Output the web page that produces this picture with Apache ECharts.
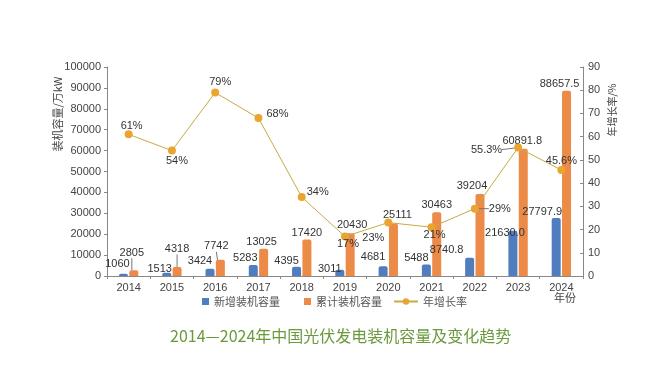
<!DOCTYPE html>
<html>
<head>
<meta charset="utf-8">
<script src="https://cdn.jsdelivr.net/npm/echarts@6/dist/echarts.min.js"></script>
<style>html,body{margin:0;padding:0;background:#fff}#c{width:660px;height:382px}</style>
</head>
<body>
<div id="c"></div>
<script>
// ---- data ----
var years = ['2014','2015','2016','2017','2018','2019','2020','2021','2022','2023','2024'];
var newCap = [1060, 1513, 3424, 5283, 4395, 3011, 4681, 5488, 8740.8, 21630.0, 27797.9];
var totalCap = [2805, 4318, 7742, 13025, 17420, 20430, 25111, 30463, 39204, 60891.8, 88657.5];
var growth = [61, 54, 79, 68, 34, 17, 23, 21, 29, 55.3, 45.6];
var leftTicks = [0, 100000, 10000];
var rightTicks = [0, 90, 10];

// ---- label styling (offsets only) ----
var newOff = [[-6,1],[-7,7],[-10,3],[-8,3.5],[-10,5],[-10,10],[-10,1],[-10,4],[-23,3],[-8,13],[-14,5]];
var totOff = [[-2,-7],[0,-7.5],[-4,-3],[-2,4],[0,4],[2,2],[4,2],[0,3],[-8,2.5],[-1,3],[-7,4]];
var totLeader = [0,1,2];
var grPos = ['top','bottom','top','right','right','bottom','bottom','bottom','right','left','top'];
var grOff = [[3,6],[5,-4],[5,4],[-1,-4],[-4,-5],[3,-7],[-15,1],[3,-7],[5,0],[-7,2],[0,5]];
var grLeader = [8,9];

var FONT = 'Liberation Sans, Noto Sans CJK SC, sans-serif';
var CJK = 'Noto Sans CJK SC, sans-serif';
var chart = echarts.init(document.getElementById('c'), null, {renderer:'canvas'});

var newFmt = newCap.map(function(v,i){ return i>=8 ? v.toFixed(1) : String(v); });
var totFmt = totalCap.map(function(v,i){ return i>=9 ? v.toFixed(1) : String(v); });

chart.setOption({
  backgroundColor:'#fff',
  animation:false,
  title:{text:'2014—2024年中国光伏发电装机容量及变化趋势', left:165, top:323,
    textStyle:{fontFamily:CJK, fontSize:16, fontWeight:'normal', color:'#6b9a3d'}},
  legend:[
    {data:['新增装机容量','累计装机容量'], left:202, top:296, padding:0, itemWidth:7, itemHeight:7, itemGap:24, icon:'rect',
     textStyle:{fontFamily:CJK, fontSize:11, color:'#555'}},
    {data:['年增长率'], left:393, top:296, padding:0, itemWidth:24, itemHeight:8,
     textStyle:{fontFamily:CJK, fontSize:11, color:'#555'}}
  ],
  grid:{left:107, right:77, top:67, bottom:106},
  xAxis:{type:'category', data:years,
    axisLine:{lineStyle:{color:'#888'}},
    axisTick:{show:true, length:3, lineStyle:{color:'#888'}},
    axisLabel:{fontFamily:FONT, fontSize:11, color:'#444', margin:6}},
  yAxis:[
    {type:'value', min:leftTicks[0], max:leftTicks[1], interval:leftTicks[2],
     axisLine:{show:true, lineStyle:{color:'#888'}}, axisTick:{show:true, length:3, lineStyle:{color:'#888'}},
     splitLine:{show:false}, axisLabel:{fontFamily:FONT, fontSize:11, color:'#444', margin:6,
       formatter:function(v){return String(v);}}},
    {type:'value', min:rightTicks[0], max:rightTicks[1], interval:rightTicks[2],
     axisLine:{show:true, lineStyle:{color:'#888'}}, axisTick:{show:true, inside:true, length:3, lineStyle:{color:'#888'}},
     splitLine:{show:false}, axisLabel:{fontFamily:FONT, fontSize:11, color:'#444', margin:5,
       formatter:function(v){return String(v);}}}
  ],
  graphic:[
    {type:'text', x:58, y:114, rotation:Math.PI/2, style:{text:'装机容量/万kW', fontFamily:CJK, fontSize:11, fill:'#444', textAlign:'center', textVerticalAlign:'middle'}},
    {type:'text', x:612, y:110, rotation:Math.PI/2, style:{text:'年增长率/%', fontFamily:CJK, fontSize:10, fill:'#444', textAlign:'center', textVerticalAlign:'middle'}},
    {type:'text', x:565, y:298, style:{text:'年份', fontFamily:CJK, fontSize:11, fill:'#444', textAlign:'center', textVerticalAlign:'middle'}}
  ],
  series:[
    {name:'新增装机容量', type:'bar', yAxisIndex:0, barWidth:9, barGap:'15%',
     itemStyle:{color:'#4f7dbd', borderRadius:[2,2,0,0]},
     data:newCap,
     label:{show:true, position:'top', distance:5, fontFamily:FONT, fontSize:11, color:'#333',
       formatter:function(p){return newFmt[p.dataIndex];}},
     labelLayout:function(p){var o=newOff[p.dataIndex]; return {dx:o[0], dy:o[1]};}},
    {name:'累计装机容量', type:'bar', yAxisIndex:0, barWidth:9,
     itemStyle:{color:'#ec8a48', borderRadius:[2,2,0,0]},
     data:totalCap.map(function(v,i){return {value:v, labelLine:{show: totLeader.indexOf(i)>=0, lineStyle:{color:'#777', width:1}}};}),
     label:{show:true, position:'top', distance:5, fontFamily:FONT, fontSize:11, color:'#333',
       formatter:function(p){return totFmt[p.dataIndex];}},
     labelLine:{show:false},
     labelLayout:function(p){var o=totOff[p.dataIndex]; return {dx:o[0], dy:o[1]};}},
    {name:'年增长率', type:'line', yAxisIndex:1, symbol:'circle', symbolSize:8,
     lineStyle:{color:'#c8aa45', width:1}, itemStyle:{color:'#eaa530'},
     z:5,
     data:growth.map(function(v,i){return {value:v, label:{position:grPos[i]}, labelLine:{show: grLeader.indexOf(i)>=0, lineStyle:{color:'#777', width:1}}};}),
     label:{show:true, fontFamily:FONT, fontSize:11, color:'#333', distance:5, formatter:'{c}%'},
     labelLine:{show:false},
     labelLayout:function(p){var o=grOff[p.dataIndex]; return {dx:o[0], dy:o[1]};}}
  ]
});
</script>
</body>
</html>
